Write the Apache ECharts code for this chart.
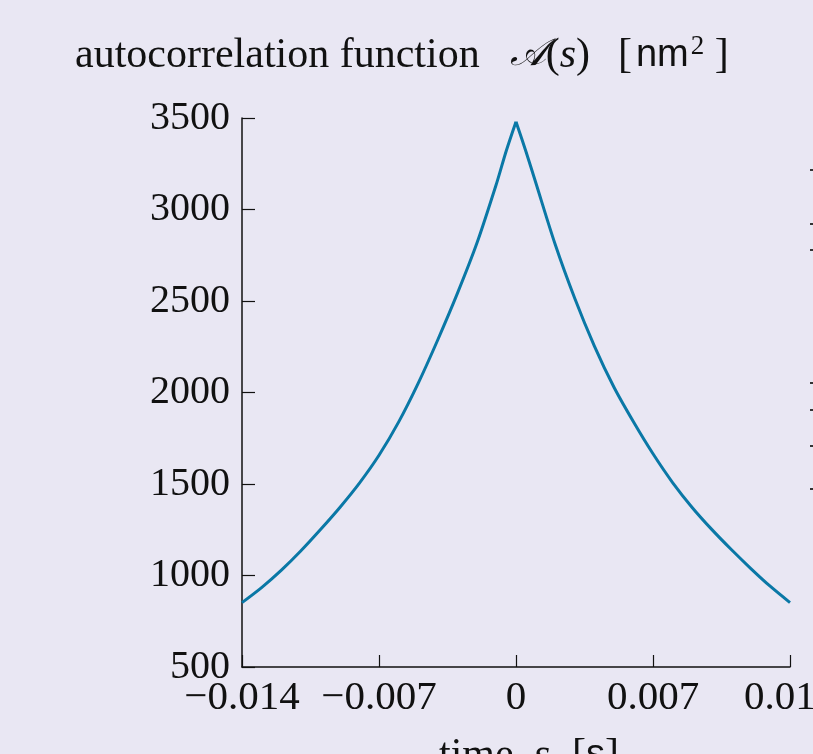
<!DOCTYPE html>
<html>
<head>
<meta charset="utf-8">
<style>
  html, body { margin: 0; padding: 0; background: #e9e7f3; }
  #chart { width: 813px; height: 754px; }
</style>
<script src="https://cdn.jsdelivr.net/npm/echarts@6/dist/echarts.min.js"></script>
</head>
<body>
<div id="chart"></div>
<script>
// Lag times s [s]
const lagTimes = [
  -0.014, -0.013, -0.012, -0.011, -0.010, -0.009, -0.008, -0.007,
  -0.006, -0.005, -0.004, -0.003, -0.002, -0.001, -0.0005, 0,
  0.0005, 0.001, 0.002, 0.003, 0.004, 0.005, 0.006, 0.007,
  0.008, 0.009, 0.010, 0.011, 0.012, 0.013, 0.014
];
// Autocorrelation A(s) [nm^2]
const acfValues = [
  852, 934, 1028, 1134, 1250, 1372, 1505, 1657,
  1838, 2050, 2287, 2540, 2815, 3140, 3320, 3480,
  3320, 3150, 2810, 2515, 2255, 2030, 1840, 1665,
  1508, 1372, 1252, 1142, 1038, 940, 852
];
const xTickLabels = ['\u22120.014', '\u22120.007', '0', '0.007', '0.014'];
const yTickLabels = ['500', '1000', '1500', '2000', '2500', '3000', '3500'];

const serif = '"Liberation Serif", "DejaVu Serif", serif';
const sans = '"Liberation Sans", "DejaVu Sans", sans-serif';
const ink = '#111111';
const curveColor = '#0a78a6';

// the function has a cusp at s = 0, so each side is drawn as its own smooth branch
const peakIndex = lagTimes.indexOf(0);
const points = lagTimes.map((s, k) => [s, acfValues[k]]);
const leftBranch = points.slice(0, peakIndex + 1);
const rightBranch = points.slice(peakIndex);

const chart = echarts.init(document.getElementById('chart'), null, { renderer: 'canvas' });

const edgeMarks = [169, 223, 249, 382, 409, 445, 488].map(y => ({
  type: 'rect', left: 810, top: y, shape: { width: 3, height: 2 }, style: { fill: '#333' }
}));

const branch = data => ({
  type: 'line',
  data,
  showSymbol: false,
  smooth: 0.3,
  clip: true,
  lineStyle: { color: curveColor, width: 3 }
});

chart.setOption({
  backgroundColor: '#e9e7f3',
  animation: false,
  title: {
    text: '{t|autocorrelation function}{m|\uD835\uDC9C}{t|(}{i|s}{t|)}{b|[}{n|nm}{sup|2}{t| ]}',
    left: 70, top: 28,
    textStyle: {
      fontWeight: 'normal',
      rich: {
        t: { fontFamily: serif, fontSize: 42, fontWeight: 'normal', color: ink },
        b: { fontFamily: serif, fontSize: 42, fontWeight: 'normal', color: ink, padding: [0, 4, 0, 28] },
        i: { fontFamily: serif, fontSize: 42, fontStyle: 'italic', fontWeight: 'normal', color: ink },
        m: { fontFamily: '"DejaVu Serif", serif', fontSize: 38, fontStyle: 'italic', fontWeight: 'normal', color: ink, padding: [0, 0, 0, 30] },
        n: { fontFamily: sans, fontSize: 38, fontWeight: 'normal', color: ink },
        sup: { fontFamily: serif, fontSize: 27, fontWeight: 'normal', color: ink, verticalAlign: 'top', padding: [0, 0, 18, 2] }
      }
    }
  },
  grid: {
    left: 242, right: 23, top: 118, bottom: 87,
    containLabel: false,
    outerBoundsMode: 'none'
  },
  xAxis: {
    type: 'value',
    min: -0.014, max: 0.014, interval: 0.007,
    name: '{t|time}{i|s}{b|[}{n|s}{t|]}',
    nameLocation: 'middle',
    nameGap: 68,
    nameTextStyle: {
      padding: [0, 0, 0, 26],
      rich: {
        t: { fontFamily: serif, fontSize: 42, color: ink },
        b: { fontFamily: serif, fontSize: 42, color: ink, padding: [0, 0, 0, 22] },
        i: { fontFamily: serif, fontSize: 42, fontStyle: 'italic', color: ink, padding: [0, 0, 0, 20] },
        n: { fontFamily: sans, fontSize: 38, color: ink }
      }
    },
    axisLine: { show: true, onZero: false, lineStyle: { color: ink, width: 1.5 } },
    axisTick: { show: true, inside: true, length: 12, lineStyle: { color: ink, width: 1.2 } },
    axisLabel: {
      showMinLabel: true, showMaxLabel: true, hideOverlap: false,
      margin: 11,
      fontFamily: serif, fontSize: 41, color: ink,
      formatter: (v, i) => xTickLabels[i]
    },
    splitLine: { show: false }
  },
  yAxis: {
    type: 'value',
    min: 500, max: 3500, interval: 500,
    axisLine: { show: true, onZero: false, lineStyle: { color: ink, width: 1.5 } },
    axisTick: { show: true, inside: true, length: 13, lineStyle: { color: ink, width: 1.2 } },
    axisLabel: {
      showMinLabel: true, showMaxLabel: true, hideOverlap: false,
      margin: 12,
      fontFamily: serif, fontSize: 40, color: ink,
      formatter: (v, i) => yTickLabels[i]
    },
    splitLine: { show: false }
  },
  graphic: edgeMarks,
  series: [branch(leftBranch), branch(rightBranch)]
});
</script>
</body>
</html>
